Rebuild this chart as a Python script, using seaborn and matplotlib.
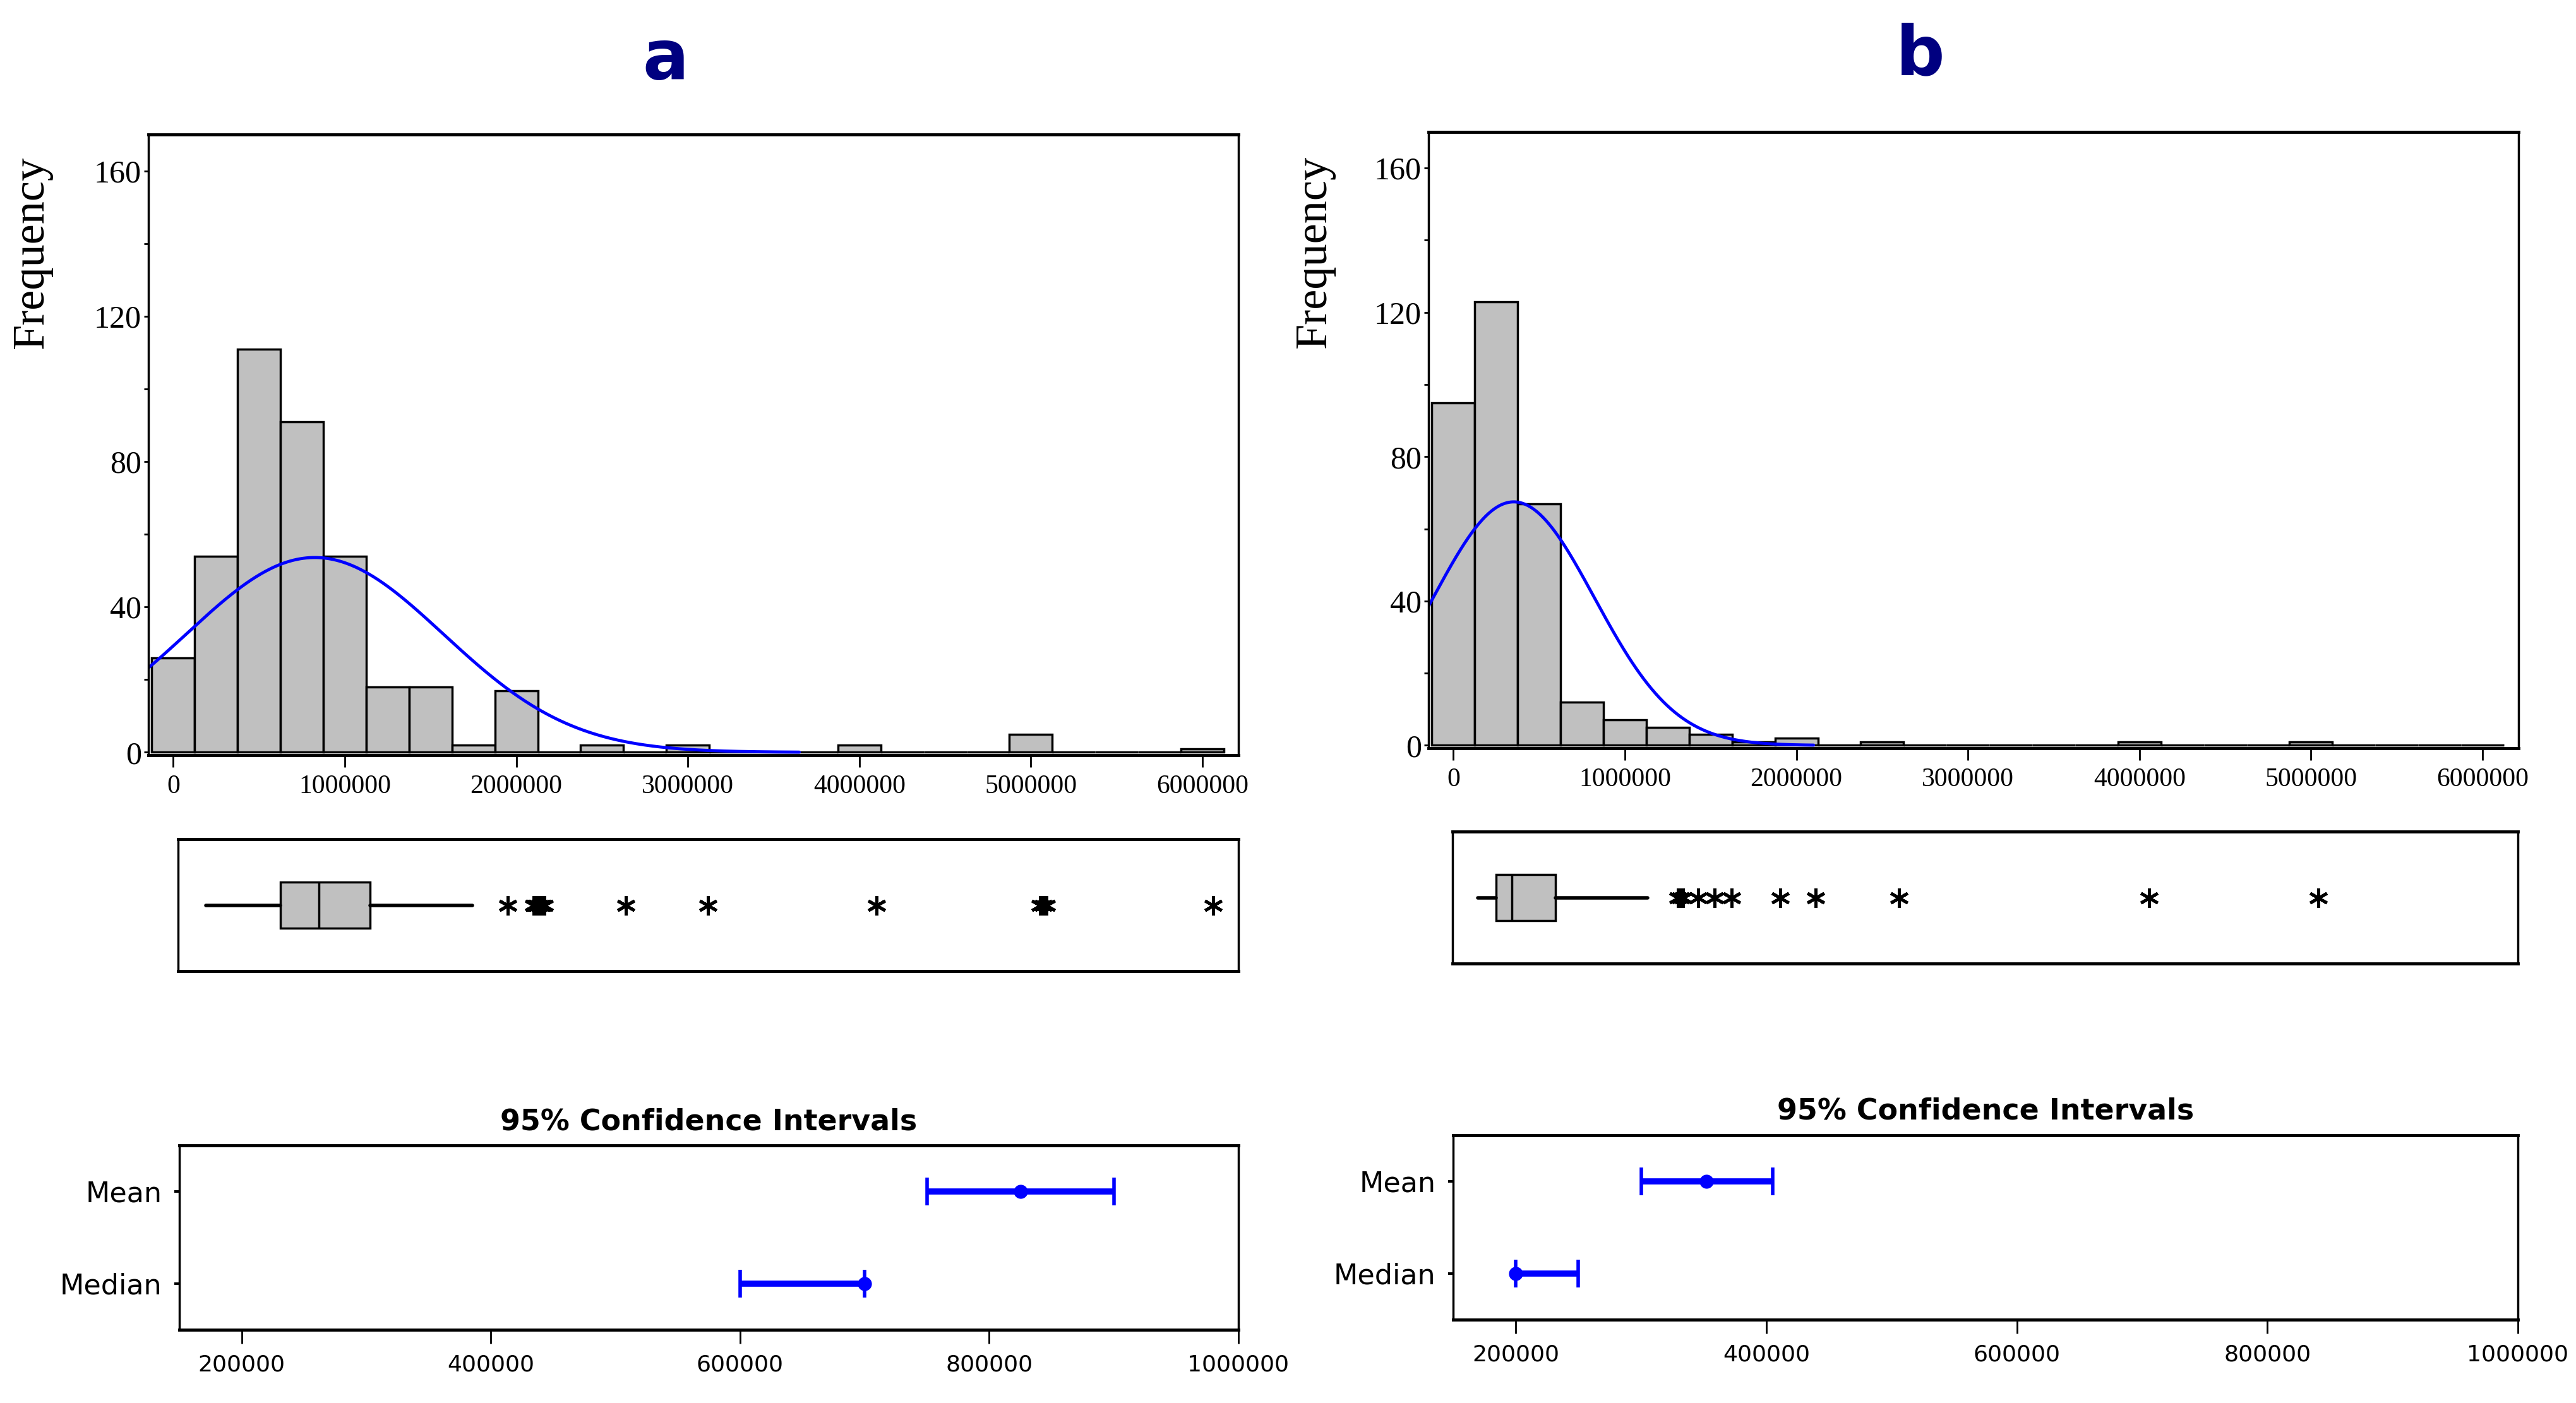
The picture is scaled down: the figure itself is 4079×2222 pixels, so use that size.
import numpy as np
import matplotlib
matplotlib.use("Agg")
import matplotlib.pyplot as plt
import seaborn as sns

# ---- data ----
bin_width = 250000
bin_centers = list(range(0, 6000001, 250000))
counts_a = [26, 54, 111, 91, 54, 18, 18, 2, 17, 0, 2, 0, 2, 0, 0, 0, 2, 0, 0, 0, 5, 0, 0, 0, 1]
counts_b = [95, 123, 67, 12, 7, 5, 3, 1, 2, 0, 1, 0, 0, 0, 0, 0, 1, 0, 0, 0, 1, 0, 0, 0, 0]

# fitted normal curve (mean, sd, end of drawn curve)
fit_a = (825000, 750000, 3650000)
fit_b = (352000, 470000, 2100000)

# boxplot summaries
box_a = dict(whislo=20000, q1=470000, med=700000, q3=1005000, whishi=1620000)
fliers_a = [1830000, 1985000, 1995000, 2000000, 2005000, 2010000, 2020000, 2030000,
            2040000, 2050000, 2540000, 3030000, 4040000, 5020000, 5040000, 5060000, 6060000]
box_b = dict(whislo=5000, q1=115000, med=210000, q3=470000, whishi=1020000)
fliers_b = [1200000, 1215000, 1230000, 1320000, 1420000, 1520000, 1810000, 2020000,
            2520000, 4010000, 5020000]

# 95% confidence intervals: (estimate, low, high)
ci_labels = ["Mean", "Median"]
ci_a = [(825000, 750000, 900000), (700000, 600000, 700000)]
ci_b = [(352000, 300000, 405000), (200000, 200000, 250000)]

hist_xticks = [0, 1000000, 2000000, 3000000, 4000000, 5000000, 6000000]
hist_yticks = [0, 40, 80, 120, 160]
ci_xticks = [200000, 400000, 600000, 800000, 1000000]

sns.set_style("white")
plt.rcParams["font.family"] = ["DejaVu Sans"]
plt.rcParams["text.color"] = "black"
plt.rcParams["axes.labelcolor"] = "black"

W, H = 4080, 2222
fig = plt.figure(figsize=(W / 100, H / 100), dpi=100)


def rect(l, t, r, b):
    return [l / W, 1 - b / H, (r - l) / W, (b - t) / H]


def frame(ax, lw_side=2.5, lw_tb=3.5):
    for s in ["left", "right"]:
        ax.spines[s].set_linewidth(lw_side)
        ax.spines[s].set_color("black")
        ax.spines[s].set_visible(True)
    for s in ["top", "bottom"]:
        ax.spines[s].set_linewidth(lw_tb)
        ax.spines[s].set_color("black")
        ax.spines[s].set_visible(True)


XLIM = (-145000, 6210000)
serif = "Liberation Serif"


def hist_panel(pos, counts, fit, label_xy):
    ax = fig.add_axes(rect(*pos))
    edges = [c - bin_width / 2 for c in bin_centers] + [bin_centers[-1] + bin_width / 2]
    sns.histplot(x=bin_centers, weights=counts, bins=edges, ax=ax,
                 color="#C0C0C0", edgecolor="black", linewidth=2.5, alpha=1)
    mu, sd, xend = fit
    n = sum(counts)
    xs = np.linspace(XLIM[0], xend, 400)
    ys = n * bin_width * np.exp(-0.5 * ((xs - mu) / sd) ** 2) / (sd * np.sqrt(2 * np.pi))
    sns.lineplot(x=xs, y=ys, ax=ax, color="#0000FF", linewidth=3.5, errorbar=None, sort=False)
    ax.set_xlim(*XLIM)
    ax.set_ylim(-0.8, 170)
    ax.set_xticks(hist_xticks)
    ax.set_xticklabels([str(v) for v in hist_xticks], family=serif, fontsize=30)
    ax.set_yticks(hist_yticks)
    ax.set_yticklabels([str(v) for v in hist_yticks], family=serif, fontsize=36)
    ax.set_yticks([20, 60, 100, 140], minor=True)
    ax.tick_params(axis="x", which="major", direction="out", length=14, width=2, pad=8,
                   bottom=True, colors="black")
    ax.tick_params(axis="y", which="both", direction="out", length=5, width=2, pad=3,
                   left=True, colors="black")
    ax.set_xlabel("")
    ax.set_ylabel("Frequency", family=serif, fontsize=52)
    ax.yaxis.set_label_coords(*label_xy)
    frame(ax)
    return ax


def box_panel(pos, summary, fliers):
    ax = fig.add_axes(rect(*pos))
    stats = [dict(summary, fliers=np.array(fliers))]
    ax.bxp(stats, positions=[1], widths=0.35, orientation="horizontal",
           patch_artist=True, showcaps=False,
           boxprops=dict(facecolor="#C0C0C0", edgecolor="black", linewidth=2.5),
           medianprops=dict(color="black", linewidth=2.5),
           whiskerprops=dict(color="black", linewidth=4),
           flierprops=dict(marker=(6, 2, 0), markersize=22, markeredgecolor="black",
                           markeredgewidth=3.5, linestyle="none"))
    ax.set_xlim(*XLIM)
    ax.set_ylim(0.5, 1.5)
    ax.set_xticks([])
    ax.set_yticks([])
    frame(ax)
    return ax


def ci_panel(pos, ci):
    ax = fig.add_axes(rect(*pos))
    est = [c[0] for c in ci]
    lo = [c[0] - c[1] for c in ci]
    hi = [c[2] - c[0] for c in ci]
    ypos = list(range(len(ci_labels)))
    ax.errorbar(est, ypos, xerr=[lo, hi], fmt="o", color="#0000FF", ecolor="#0000FF",
                elinewidth=7, capsize=16, capthick=4, markersize=15)
    ax.set_xlim(150000, 1000000)
    ax.set_ylim(1.5, -0.5)
    ax.set_yticks(ypos)
    ax.set_yticklabels(ci_labels, fontsize=32)
    ax.set_xticks(ci_xticks)
    ax.set_xticklabels([str(v) for v in ci_xticks], fontsize=26)
    ax.tick_params(axis="x", direction="out", length=16, width=2, pad=12, bottom=True,
                   colors="black")
    ax.tick_params(axis="y", direction="out", length=6, width=3, pad=14, left=True,
                   colors="black")
    ax.set_title("95% Confidence Intervals", fontsize=33, fontweight="bold", pad=18,
                 color="black")
    frame(ax)
    return ax


hist_panel((235, 213, 1961, 1196), counts_a, fit_a, (-0.088, 0.81))
box_panel((282, 1329, 1961, 1538), box_a, fliers_a)
ci_panel((284, 1814, 1961, 2106), ci_a)

hist_panel((2262, 209, 3988, 1185), counts_b, fit_b, (-0.086, 0.806))
box_panel((2300, 1317, 3987, 1526), box_b, fliers_b)
ci_panel((2301, 1798, 3987, 2090), ci_b)

fig.text(1054 / W, 1 - 125 / H, "a", fontsize=78, fontweight="bold", color="#000080",
         ha="center", va="baseline")
fig.text(3041 / W, 1 - 118 / H, "b", fontsize=78, fontweight="bold", color="#000080",
         ha="center", va="baseline")

fig.savefig("out.png", dpi=100, facecolor="white")
